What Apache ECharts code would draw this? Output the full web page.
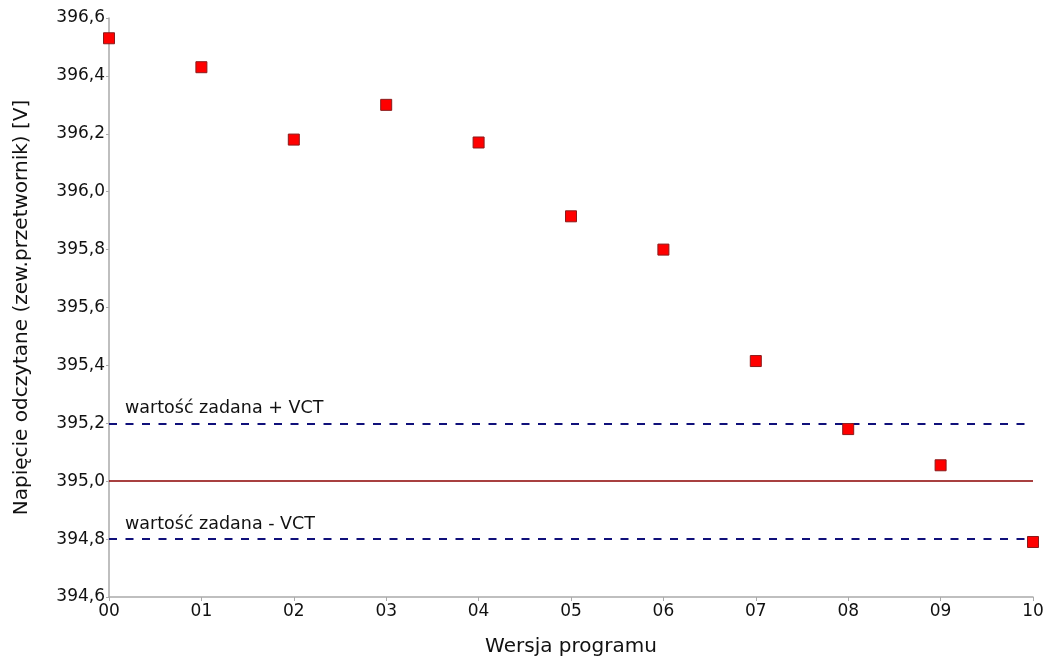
<!DOCTYPE html>
<html><head><meta charset="utf-8">
<script src="https://cdn.jsdelivr.net/npm/echarts@6/dist/echarts.min.js"></script>
<style>html,body{margin:0;padding:0;background:#fff}#c{width:1050px;height:664px}</style>
</head><body><div id="c"></div>
<script>
const categories = ['00','01','02','03','04','05','06','07','08','09','10'];
const voltages = [396.53, 396.43, 396.18, 396.30, 396.17, 395.915, 395.80, 395.415, 395.18, 395.055, 394.79];
const setpoint = 395.0;
const upperLimit = 395.2;
const lowerLimit = 394.8;
const upperLabel = 'wartość zadana + VCT';
const lowerLabel = 'wartość zadana - VCT';
const xName = 'Wersja programu';
const yName = 'Napięcie odczytane (zew.przetwornik) [V]';

const font = 'DejaVu Sans';
const chart = echarts.init(document.getElementById('c'), null, {renderer: 'canvas'});
chart.setOption({
  animation: false,
  grid: {left: 109, right: 17, top: 18, bottom: 67, containLabel: false, outerBoundsMode: 'none'},
  xAxis: {
    type: 'category', data: categories, boundaryGap: false,
    name: xName, nameLocation: 'middle', nameGap: 40,
    nameTextStyle: {fontFamily: font, fontSize: 20, color: '#111'},
    axisLine: {lineStyle: {color: '#aaaaaa', width: 1.5}},
    axisTick: {show: true, alignWithLabel: true, length: 4, lineStyle: {color: '#aaaaaa'}},
    axisLabel: {fontFamily: font, fontSize: 17, color: '#111', margin: 6, interval: 0},
    splitLine: {show: false}
  },
  yAxis: {
    type: 'value', min: 394.6, max: 396.6, interval: 0.2,
    name: yName, nameLocation: 'middle', nameGap: 77, nameRotate: 90,
    nameTextStyle: {fontFamily: font, fontSize: 20, color: '#111'},
    axisLine: {show: true, lineStyle: {color: '#aaaaaa', width: 1.5}},
    axisTick: {show: true, length: 3, lineStyle: {color: '#aaaaaa'}},
    axisLabel: {fontFamily: font, fontSize: 17, color: '#111', margin: 4,
      formatter: v => v.toFixed(1).replace('.', ',')},
    splitLine: {show: false}
  },
  series: [{
    type: 'scatter',
    data: voltages,
    symbol: 'rect', symbolSize: 11,
    itemStyle: {color: '#ff0000', borderColor: '#8b1a1a', borderWidth: 1, opacity: 1},
    z: 5,
    markLine: {
      silent: true, symbol: 'none', animation: false,
      data: [
        {yAxis: upperLimit, lineStyle: {color: '#10107a', type: [8, 8.5], width: 2},
          label: {show: true, position: 'insideStartTop', formatter: upperLabel, fontFamily: font, fontSize: 17.5, color: '#111', distance: [16, 6]}},
        {yAxis: setpoint, lineStyle: {color: '#8b0000', type: 'solid', width: 1.5},
          label: {show: false}},
        {yAxis: lowerLimit, lineStyle: {color: '#10107a', type: [8, 8.5], width: 2},
          label: {show: true, position: 'insideStartTop', formatter: lowerLabel, fontFamily: font, fontSize: 17.5, color: '#111', distance: [16, 6]}}
      ]
    }
  }]
});
</script></body></html>
